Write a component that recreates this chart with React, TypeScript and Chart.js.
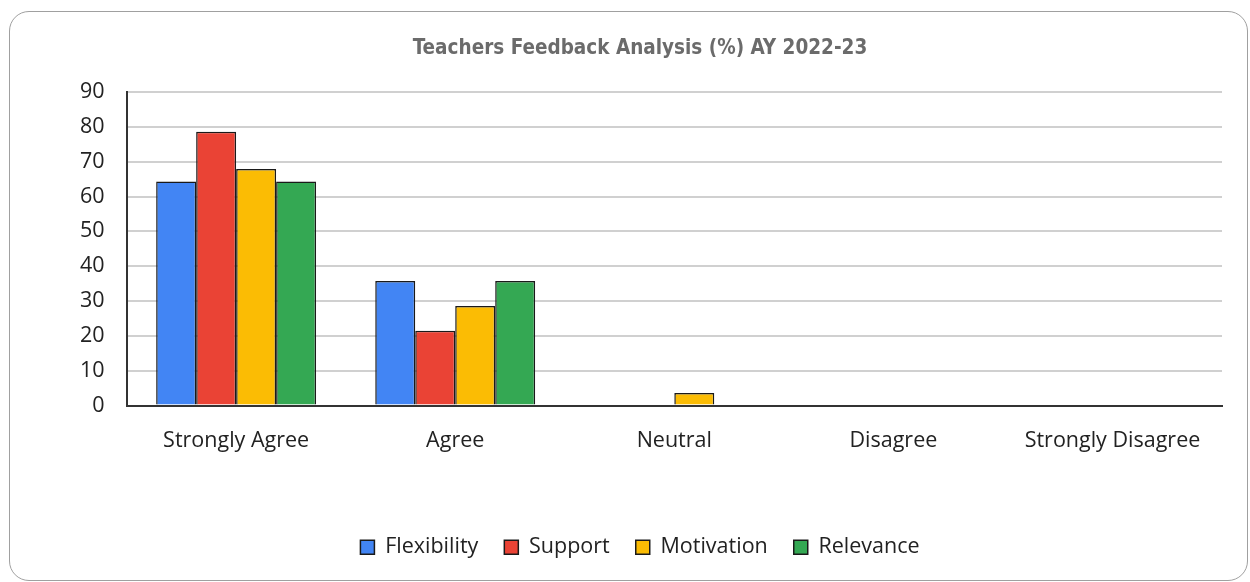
import React, { useEffect, useRef } from "react";
import { Chart, registerables } from "chart.js";

Chart.register(...registerables);

const categories = ["Strongly Agree", "Agree", "Neutral", "Disagree", "Strongly Disagree"];
const flexibility = [64.29, 35.71, 0, 0, 0];
const support = [78.57, 21.43, 0, 0, 0];
const motivation = [67.86, 28.57, 3.57, 0, 0];
const relevance = [64.29, 35.71, 0, 0, 0];
const seriesNames = ["Flexibility", "Support", "Motivation", "Relevance"];
const seriesColors = ["#4285F4", "#EA4335", "#FBBC04", "#34A853"];
const yTicks = [0, 10, 20, 30, 40, 50, 60, 70, 80, 90];

const tickFont = { family: "'Open Sans', 'Noto Sans', sans-serif", size: 21.5 };

export default function App() {
  const ref = useRef<HTMLCanvasElement | null>(null);
  useEffect(() => {
    if (!ref.current) return;
    const values = [flexibility, support, motivation, relevance];
    const chart = new Chart(ref.current, {
      type: "bar",
      data: {
        labels: categories,
        datasets: seriesNames.map((name, i) => ({
          label: name,
          data: values[i],
          backgroundColor: seriesColors[i],
          borderColor: "#1a1a1a",
          borderWidth: 1.5,
          borderSkipped: "bottom",
          categoryPercentage: 0.73,
          barPercentage: 1.0,
        })),
      },
      options: {
        responsive: false,
        animation: false,
        layout: { padding: { left: 48, right: 25, top: 0, bottom: 12 } },
        plugins: {
          title: {
            display: true,
            text: "Teachers Feedback Analysis (%) AY 2022-23",
            color: "#6b6b6b",
            font: { family: "'Liberation Sans Narrow', 'DejaVu Sans Condensed', 'Open Sans', sans-serif", size: 20.5, weight: "bold" },
            padding: { top: 24, bottom: 31.4 },
          },
          legend: {
            position: "bottom",
            labels: {
              color: "#222",
              font: tickFont,
              boxWidth: 14,
              boxHeight: 14,
              padding: 26,
              generateLabels: (c: any) =>
                c.data.datasets.map((ds: any, i: number) => ({
                  text: ds.label,
                  fillStyle: ds.backgroundColor,
                  strokeStyle: "#1a1a1a",
                  lineWidth: 1.5,
                  datasetIndex: i,
                  hidden: false,
                  fontColor: "#222",
                })),
            },
          },
          tooltip: { enabled: false },
        },
        scales: {
          x: {
            grid: { display: false, drawTicks: false },
            border: { display: true, color: "#333", width: 2 },
            ticks: { color: "#222", font: tickFont, padding: 22 },
            afterFit: (axis: any) => {
              axis.height = 105;
            },
          },
          y: {
            min: 0,
            max: 90,
            afterBuildTicks: (axis: any) => {
              axis.ticks = yTicks.map((v) => ({ value: v }));
            },
            grid: { color: "#d0d0d0", lineWidth: 2, drawTicks: false },
            border: { display: true, color: "#333", width: 2 },
            ticks: { color: "#222", font: tickFont, padding: 22 },
          },
        },
      },
    });
    return () => chart.destroy();
  }, []);

  return (
    <div
      style={{
        position: "absolute",
        left: 9,
        top: 11,
        width: 1237,
        height: 568,
        border: "1.5px solid #a0a0a0",
        borderRadius: 20,
        background: "#fff",
        overflow: "hidden",
      }}
    >
      <canvas ref={ref} width={1237} height={568} />
    </div>
  );
}
